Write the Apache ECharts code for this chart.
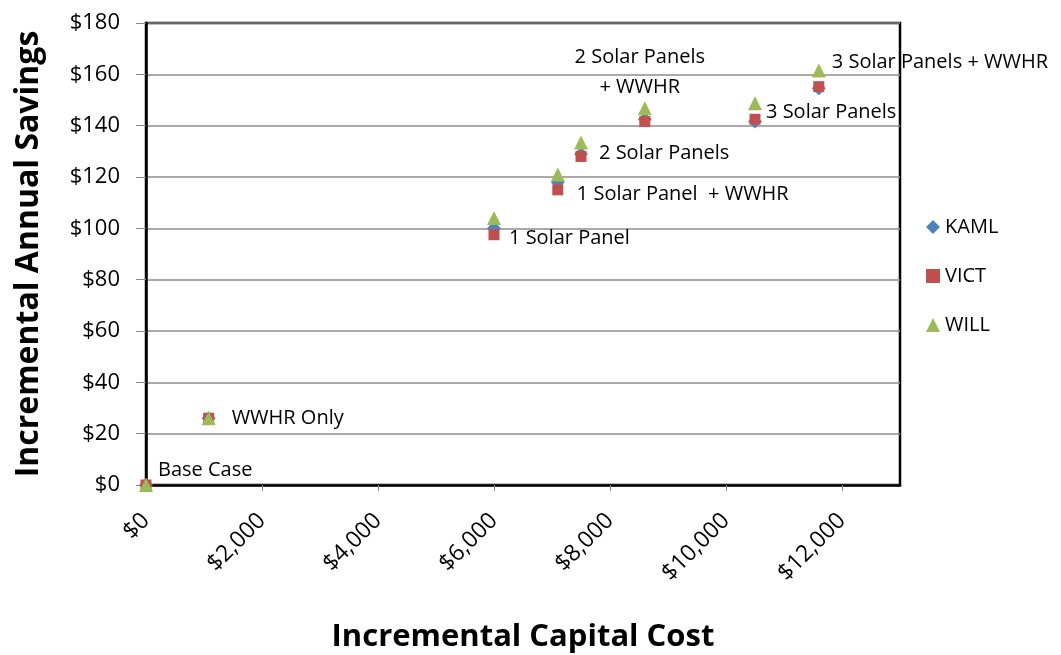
<!DOCTYPE html>
<html>
<head>
<meta charset="utf-8">
<script src="https://cdn.jsdelivr.net/npm/echarts@6/dist/echarts.min.js"></script>
<style>
  html, body { margin: 0; padding: 0; background: #fff; }
  #chart { width: 1061px; height: 655px; }
</style>
</head>
<body>
<div id="chart"></div>
<script>
// 方案名称
var caseNames = ['Base Case', 'WWHR Only', '1 Solar Panel', '1 Solar Panel  + WWHR',
  '2 Solar Panels', '2 Solar Panels\n+ WWHR', '3 Solar Panels', '3 Solar Panels + WWHR'];
// 增量投资
var capitalCost = [0, 1080, 6000, 7100, 7500, 8600, 10500, 11600];
// 年节省 - 三个城市
var kaml = [0, 26, 100, 118, 129, 142.5, 141.6, 154.6];
var vict = [0, 26, 97.5, 115, 128, 141.6, 142.5, 155.2];
var will = [0, 26, 104, 121, 133.4, 146.8, 148.7, 161.5];
var seriesNames = ['KAML', 'VICT', 'WILL'];
var yTicks = [0, 20, 40, 60, 80, 100, 120, 140, 160, 180];
var xTicks = [0, 2000, 4000, 6000, 8000, 10000, 12000];

// 标签位置（偏移）
var labelOffsets = [
  [0, -15], [11, 0], [3, 10], [7, 12], [6, -1], null, [-1, -9], [1, -26]
];

var FONT = 'Open Sans';
var LABEL_FONT = { fontFamily: FONT, fontSize: 20, color: '#000' };

function pts(ys, withLabel) {
  return capitalCost.map(function (x, i) {
    var item = { name: caseNames[i], value: [x, ys[i]] };
    if (withLabel) {
      if (labelOffsets[i]) {
        item.label = Object.assign({ show: true, position: 'right', distance: 5, offset: labelOffsets[i], align: 'left' }, LABEL_FONT);
      } else {
        item.label = Object.assign({ show: true, position: 'top', distance: 5, offset: [-5, -5], align: 'center', lineHeight: 30 }, LABEL_FONT);
      }
    }
    return item;
  });
}

var myChart = echarts.init(document.getElementById('chart'));
var option = {
  animation: false,
  textStyle: { fontFamily: FONT },
  grid: {
    left: 146, right: 161, top: 23, bottom: 170,
    containLabel: false, outerBoundsMode: 'none',
    show: true, borderColor: '#000', borderWidth: 2.5, backgroundColor: '#fff'
  },
  legend: {
    orient: 'vertical',
    left: 921, top: 212,
    itemWidth: 14, itemHeight: 14, itemGap: 29,
    textStyle: { fontFamily: FONT, fontSize: 20, color: '#000' },
    data: [
      { name: 'KAML', icon: 'diamond' },
      { name: 'VICT', icon: 'rect' },
      { name: 'WILL', icon: 'triangle' }
    ]
  },
  xAxis: {
    type: 'value',
    min: xTicks[0], max: 13000, interval: 2000,
    name: 'Incremental Capital Cost',
    nameLocation: 'middle', nameGap: 137,
    nameTextStyle: { fontFamily: FONT, fontSize: 31, fontWeight: 'bold', color: '#000' },
    axisLine: { show: true, lineStyle: { color: '#000', width: 2.5 } },
    axisTick: { show: true, inside: false, length: 6, lineStyle: { color: '#888', width: 1 } },
    axisLabel: {
      rotate: 45, margin: 32, fontSize: 23, color: '#000', fontFamily: FONT,
      showMaxLabel: false,
      formatter: function (v) {
        return xTicks.indexOf(v) >= 0 ? '$' + v.toLocaleString('en-US') : '';
      }
    },
    splitLine: { show: false }
  },
  yAxis: {
    type: 'value',
    min: yTicks[0], max: yTicks[yTicks.length - 1], interval: 20,
    name: 'Incremental Annual Savings',
    nameLocation: 'middle', nameGap: 101,
    nameTextStyle: { fontFamily: FONT, fontSize: 32, fontWeight: 'bold', color: '#000' },
    axisLine: { show: true, lineStyle: { color: '#000', width: 2.5 } },
    axisTick: { show: true, inside: false, length: 10, lineStyle: { color: '#888', width: 1 } },
    axisLabel: {
      margin: 26, fontSize: 22, color: '#000', fontFamily: FONT,
      formatter: function (v) { return '$' + v; }
    },
    splitLine: { show: true, lineStyle: { color: '#8c8c8c', width: 1.5 } }
  },
  series: [
    {
      name: seriesNames[0], type: 'scatter', symbol: 'diamond', symbolSize: 14, clip: false,
      itemStyle: { color: '#4F81BD', opacity: 1 },
      label: Object.assign({ formatter: '{b}' }, LABEL_FONT),
      data: pts(kaml, true), z: 3
    },
    {
      name: seriesNames[1], type: 'scatter', symbol: 'rect', symbolSize: 11, clip: false,
      itemStyle: { color: '#C0504D', opacity: 1 },
      data: pts(vict, false), z: 4
    },
    {
      name: seriesNames[2], type: 'scatter', symbol: 'triangle', symbolSize: 14, clip: false,
      itemStyle: { color: '#9BBB59', opacity: 1 },
      data: pts(will, false), z: 5
    }
  ]
};
myChart.setOption(option);
</script>
</body>
</html>
